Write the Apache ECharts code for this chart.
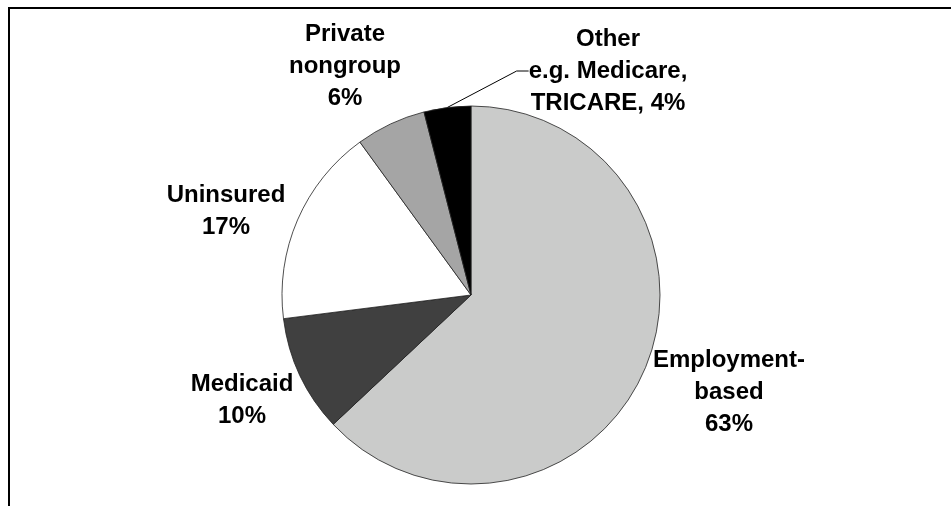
<!DOCTYPE html>
<html>
<head>
<meta charset="utf-8">
<script src="https://cdn.jsdelivr.net/npm/echarts@6/dist/echarts.min.js"></script>
<style>
  html, body { margin: 0; padding: 0; background: #ffffff; }
  #chart { width: 951px; height: 506px; }
</style>
</head>
<body>
<div id="chart"></div>
<script>
// ---- data ----
const categories = ['Employment-based', 'Medicaid', 'Uninsured', 'Private nongroup', 'Other'];
const labelLines = [
  ['Employment-', 'based'],
  ['Medicaid'],
  ['Uninsured'],
  ['Private', 'nongroup'],
  ['Other', 'e.g. Medicare,', 'TRICARE,']
];
const shares = [63, 10, 17, 6, 4];
const sliceColors = ['#CACBCA', '#404040', '#FFFFFF', '#A5A5A5', '#000000'];

// ---- label placement (pixels) ----
const labelPos = [
  [729, 392],
  [242, 400],
  [226, 211],
  [345, 66],
  [608, 71]
];

const chart = echarts.init(document.getElementById('chart'), null, { renderer: 'canvas' });

const seriesData = categories.map((c, i) => ({
  name: c,
  value: shares[i],
  itemStyle: { color: sliceColors[i] },
  labelLine: { show: i === 4 }
}));

chart.setOption({
  animation: false,
  backgroundColor: '#ffffff',
  graphic: [{
    type: 'rect',
    shape: { x: 9, y: 8, width: 1000, height: 600 },
    style: { fill: 'none', stroke: '#000000', lineWidth: 2 },
    silent: true
  }],
  series: [{
    type: 'pie',
    center: [471, 295],
    radius: [0, 189],
    startAngle: 90,
    clockwise: true,
    avoidLabelOverlap: false,
    itemStyle: { borderColor: '#222222', borderWidth: 0.8 },
    emphasis: { disabled: true },
    label: {
      show: true,
      position: 'outside',
      color: '#000000',
      fontFamily: 'Liberation Sans, Arial, sans-serif',
      fontWeight: 'bold',
      fontSize: 24,
      lineHeight: 32,
      align: 'center',
      formatter: function (p) {
        const lines = labelLines[p.dataIndex].slice();
        if (p.dataIndex === 4) {
          lines[lines.length - 1] = lines[lines.length - 1] + ' ' + shares[p.dataIndex] + '%';
        } else {
          lines.push(shares[p.dataIndex] + '%');
        }
        return lines.join('\n');
      }
    },
    labelLine: {
      show: false,
      length: 10,
      length2: 12,
      smooth: false,
      lineStyle: { color: '#000000', width: 1 }
    },
    labelLayout: function (params) {
      const p = labelPos[params.dataIndex];
      return { x: p[0], y: p[1], align: 'center', verticalAlign: 'middle', hideOverlap: false, moveOverlap: null };
    },
    data: seriesData
  }]
});
</script>
</body>
</html>
